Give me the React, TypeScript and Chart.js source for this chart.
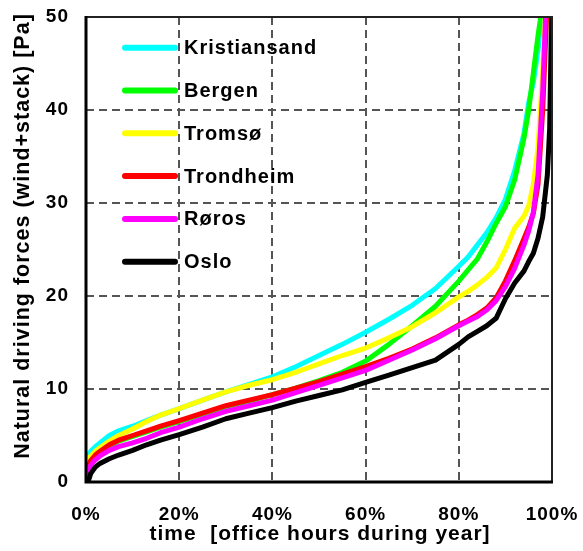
import { useEffect, useRef } from 'react';
import { Chart, registerables } from 'chart.js';

Chart.register(...registerables);

// time share of office hours during the year [%]
const timePct = [0, 0.5, 1, 2, 3, 5, 7, 10, 13, 16, 20, 25, 30, 35, 40, 45, 50, 55, 60, 65, 70, 75, 80, 82, 84, 86, 88, 90, 92, 94, 95, 96, 97, 98, 99, 99.5, 100];

// natural driving forces (wind+stack) [Pa]
const kristiansand = [1.8, 2.9, 3.3, 3.8, 4.2, 5.0, 5.5, 6.0, 6.6, 7.2, 7.9, 8.8, 9.7, 10.5, 11.3, 12.4, 13.6, 14.8, 16.1, 17.5, 19.0, 20.8, 23.2, 24.2, 25.5, 26.8, 28.4, 30.4, 33.5, 37.5, 40.8, 43.0, 46.5, 51, 60, 65, 70];
const bergen = [1.0, 2.0, 2.5, 2.9, 3.3, 3.9, 4.4, 4.9, 5.4, 5.9, 6.5, 7.3, 8.1, 8.7, 9.4, 10.1, 10.9, 11.8, 13.0, 14.8, 16.8, 18.9, 21.6, 22.8, 24.0, 25.8, 27.8, 29.6, 32.5, 37.0, 40.0, 44.0, 48.0, 51.5, 60, 65, 70];
const tromso = [1.3, 2.3, 2.8, 3.3, 3.7, 4.4, 5.0, 5.7, 6.5, 7.2, 7.9, 8.8, 9.7, 10.4, 11.0, 11.8, 12.7, 13.6, 14.4, 15.5, 16.7, 18.2, 19.9, 20.5, 21.2, 22.0, 23.0, 25.0, 27.3, 28.6, 29.7, 32.0, 36.0, 44, 55, 62, 70];
const trondheim = [0.8, 1.8, 2.3, 2.9, 3.3, 4.0, 4.5, 5.0, 5.5, 6.0, 6.6, 7.4, 8.2, 8.8, 9.4, 10.1, 10.8, 11.6, 12.4, 13.3, 14.3, 15.5, 16.9, 17.4, 18.0, 18.7, 19.8, 21.6, 23.8, 26.2, 27.4, 28.9, 32.0, 40, 52, 61, 70];
const roros = [0.4, 1.2, 1.8, 2.4, 2.8, 3.4, 3.8, 4.2, 4.7, 5.3, 5.9, 6.8, 7.6, 8.2, 8.8, 9.6, 10.4, 11.2, 12.0, 13.1, 14.2, 15.4, 16.8, 17.3, 17.8, 18.5, 19.5, 21.0, 23.0, 25.5, 27.0, 29.0, 33.0, 42, 55, 62, 70];
const oslo = [0, 0.1, 0.9, 1.6, 2.0, 2.5, 2.9, 3.4, 4.0, 4.5, 5.1, 5.9, 6.8, 7.4, 8.0, 8.7, 9.3, 9.9, 10.7, 11.5, 12.3, 13.1, 14.8, 15.6, 16.2, 16.8, 17.6, 19.7, 21.4, 22.7, 23.7, 24.6, 26.2, 28.5, 33.0, 38, 53];

const cityNames = ['Kristiansand', 'Bergen', 'Tromsø', 'Trondheim', 'Røros', 'Oslo'];
const cityValues = [kristiansand, bergen, tromso, trondheim, roros, oslo];
const cityColors = ['#00FFFF', '#00FF00', '#FFFF00', '#FF0000', '#FF00FF', '#000000'];

const xTickStep = 20;
const yTickStep = 10;
const xTitle = 'time  [office hours during year]';
const yTitle = 'Natural driving forces (wind+stack) [Pa]';

const FAMILY = "'Liberation Sans', Arial, sans-serif";
const DASH_ON = 8;
const DASH_OFF = 5;
const GRID_W = 2;

function drawGrid(chart: any) {
  const c = chart.ctx as CanvasRenderingContext2D;
  const { left, right, top, bottom } = chart.chartArea;
  const xs = chart.scales.x;
  const ys = chart.scales.y;
  c.save();
  c.fillStyle = '#555555';
  xs.ticks.forEach((t: any) => {
    const px = Math.round(xs.getPixelForValue(t.value));
    if (px <= left + 2 || px >= right - 2) return;
    for (let y = top; y < bottom; y += DASH_ON + DASH_OFF) {
      c.fillRect(px - 1, y, GRID_W, Math.min(DASH_ON, bottom - y));
    }
  });
  ys.ticks.forEach((t: any) => {
    const py = Math.round(ys.getPixelForValue(t.value));
    if (py <= top + 2 || py >= bottom - 2) return;
    for (let x = left; x < right; x += DASH_ON + DASH_OFF) {
      c.fillRect(x, py - 1, Math.min(DASH_ON, right - x), GRID_W);
    }
  });
  c.restore();
}

const decorPlugin = {
  id: 'decor',
  beforeDraw(chart: any) {
    chart.ctx.letterSpacing = '1px';
  },
  beforeDatasetsDraw(chart: any) {
    drawGrid(chart);
  },
  afterDraw(chart: any) {
    const c = chart.ctx as CanvasRenderingContext2D;
    const { left, right, top, bottom } = chart.chartArea;
    c.save();
    // frame
    c.setLineDash([]);
    c.strokeStyle = '#222';
    c.lineWidth = 2;
    c.beginPath();
    c.moveTo(left, top);
    c.lineTo(right, top);
    c.lineTo(right, bottom);
    c.stroke();
    c.strokeStyle = '#000';
    c.lineWidth = 3;
    c.beginPath();
    c.moveTo(left, top - 1);
    c.lineTo(left, bottom);
    c.lineTo(right + 1, bottom);
    c.stroke();

    // legend
    (c as any).letterSpacing = '1px';
    c.font = `bold 20px ${FAMILY}`;
    c.textAlign = 'left';
    c.textBaseline = 'middle';
    const ds = chart.data.datasets;
    ds.forEach((d: any, i: number) => {
      const y = 47.7 + i * 42.8;
      c.strokeStyle = d.borderColor;
      c.lineWidth = 6;
      c.lineCap = 'round';
      c.beginPath();
      c.moveTo(125, y);
      c.lineTo(175, y);
      c.stroke();
      c.fillStyle = '#000';
      c.fillText(d.label, 184, y + 1);
    });

    // axis titles
    c.font = `bold 21px ${FAMILY}`;
    c.fillStyle = '#000';
    c.textAlign = 'center';
    c.textBaseline = 'alphabetic';
    c.fillText(xTitle, 320, 540);
    c.save();
    c.font = `bold 21.5px ${FAMILY}`;
    c.translate(23, 236);
    c.rotate(-Math.PI / 2);
    c.textBaseline = 'middle';
    c.fillText(yTitle, 0, 0);
    c.restore();
    c.restore();
  },
};

export default function App() {
  const ref = useRef<HTMLCanvasElement>(null);
  useEffect(() => {
    const canvas = ref.current;
    if (!canvas) return;
    const chart = new Chart(canvas, {
      type: 'line',
      data: {
        datasets: cityNames.map((name, i) => ({
          label: name,
          data: timePct.map((x, j) => ({ x, y: cityValues[i][j] })),
          borderColor: cityColors[i],
          backgroundColor: cityColors[i],
          borderWidth: 5,
          pointRadius: 0,
          tension: 0,
          fill: false,
          clip: 0,
          borderJoinStyle: 'round',
          order: cityNames.length - 1 - i,
        })),
      },
      options: {
        responsive: false,
        animation: false,
        devicePixelRatio: 1,
        layout: { padding: { left: 0, top: 17, right: 31, bottom: 0 } },
        plugins: { legend: { display: false }, tooltip: { enabled: false } },
        scales: {
          x: {
            type: 'linear',
            min: 0,
            max: 100,
            ticks: {
              stepSize: xTickStep,
              callback: (v: any) => v + '%',
              font: { family: FAMILY, size: 19, weight: 'bold' },
              color: '#000',
              padding: 21,
              maxRotation: 0,
              autoSkip: false,
            },
            grid: { display: false, drawTicks: false },
            border: { display: false },
            afterFit: (s: any) => {
              s.height = 69;
              s.paddingLeft = 0;
              s.paddingRight = 0;
            },
          },
          y: {
            type: 'linear',
            min: 0,
            max: 50,
            ticks: {
              stepSize: yTickStep,
              font: { family: FAMILY, size: 19, weight: 'bold' },
              color: '#000',
              padding: 17,
            },
            grid: { display: false, drawTicks: false },
            border: { display: false },
            afterFit: (s: any) => {
              s.width = 86;
              s.paddingTop = 0;
              s.paddingBottom = 0;
            },
          },
        },
      } as any,
      plugins: [decorPlugin],
    });
    return () => chart.destroy();
  }, []);
  return (
    <div style={{ position: 'absolute', left: 0, top: 0, width: 583, height: 551 }}>
      <canvas ref={ref} width={583} height={551} style={{ width: 583, height: 551, display: 'block' }} />
    </div>
  );
}
